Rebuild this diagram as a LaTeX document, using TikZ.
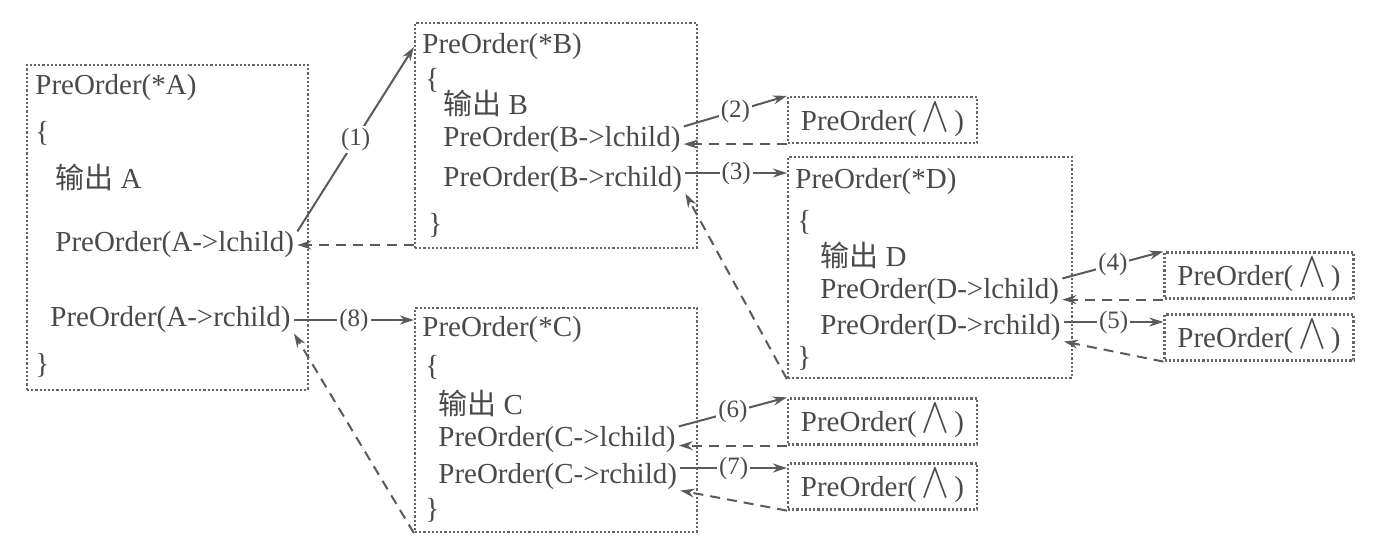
\documentclass[tikz,border=0pt]{standalone}
\usepackage{fontspec}
\setmainfont{Liberation Serif}
\newfontfamily\cjk{Noto Sans CJK SC}
\usetikzlibrary{arrows.meta,calc,fit}
\definecolor{txt}{HTML}{4A4A4A}
\definecolor{ln}{HTML}{5A5A5A}
\definecolor{bd}{HTML}{666666}
\newcommand{\nul}{PreOrder(\,\raisebox{-0.5pt}{\scalebox{1.45}[1.75]{$\wedge$}}\,)}
\begin{document}
\begin{tikzpicture}[x=0.5pt,y=-0.5pt,
  every node/.style={text=txt, font=\fontsize{14.5}{17}\selectfont},
  ctext/.style={anchor=west, inner xsep=1.5pt, inner ysep=0pt},
  cbox/.style={draw=bd, line width=1.1pt, densely dotted, inner sep=0pt},
  sbox/.style={cbox, minimum width=94.5pt, minimum height=23pt},
  callarr/.style={draw=ln, line width=1pt, -{Stealth[length=7pt,width=4.5pt]}},
  retarr/.style={callarr, dash pattern=on 5pt off 3.5pt},
  numlbl/.style={fill=white, inner sep=1pt, font=\fontsize{12.5}{14}\selectfont}
]
\fill[white] (0,0) rectangle (1373,550);
\useasboundingbox (0,0) rectangle (1373,550);

% boxes
\node[cbox, fit={(27,65)(308,390)}] (A) {};
\node[cbox, fit={(415,23)(697,248)}] (B) {};
\node[cbox, fit={(415,308)(697,532)}] (C) {};
\node[cbox, fit={(788,157)(1072,378)}] (D) {};

% A
\node[ctext] (At) at (32,88) {PreOrder(*A)};
\node[ctext] (Ao1) at (32,133) {\{};
\node[ctext] (Ao) at (52,177) {{\cjk 输出} A};
\node[ctext] (Al) at (52,245) {PreOrder(A->lchild)};
\node[ctext] (Ar) at (47,320) {PreOrder(A->rchild)};
\node[ctext] (Ac) at (32,365) {\}};
% B
\node[ctext] (Bt) at (419,47) {PreOrder(*B)};
\node[ctext] (Bo1) at (422,80) {\{};
\node[ctext] (Bo) at (440,103) {{\cjk 输出} B};
\node[ctext] (Bl) at (440,140) {PreOrder(B->lchild)};
\node[ctext] (Br) at (440,180) {PreOrder(B->rchild)};
\node[ctext] (Bc) at (425,225) {\}};
% C
\node[ctext] (Ct) at (419,330) {PreOrder(*C)};
\node[ctext] (Co1) at (422,367) {\{};
\node[ctext] (Co) at (435,403) {{\cjk 输出} C};
\node[ctext] (Cl) at (435,440) {PreOrder(C->lchild)};
\node[ctext] (Cr) at (435,477) {PreOrder(C->rchild)};
\node[ctext] (Cc) at (422,510) {\}};
% D
\node[ctext] (Dt) at (792,182) {PreOrder(*D)};
\node[ctext] (Do1) at (794,222) {\{};
\node[ctext] (Do) at (817,255) {{\cjk 输出} D};
\node[ctext] (Dl) at (817,292) {PreOrder(D->lchild)};
\node[ctext] (Dr) at (817,328) {PreOrder(D->rchild)};
\node[ctext] (Dc) at (794,358) {\}};

% null calls
\node[sbox] (bl) at (882.5,120) {\nul};
\node[sbox] (dl) at (1259,275.5) {\nul};
\node[sbox] (dr) at (1259,337.5) {\nul};
\node[sbox] (cl) at (882.5,421.5) {\nul};
\node[sbox] (cr) at (882.5,486.5) {\nul};

% connectors
\draw[callarr] (Al.north east) -- node[numlbl]{(1)} (Bt.west -| B.west);
\draw[retarr] (Al.east -| B.west) -- (Al.east);
\draw[callarr] (Ar.east) -- node[numlbl]{(8)} (Ar.east -| C.west);
\draw[retarr] (C.south west) -- (Ar.south east);

\draw[callarr] (Bl.north east) -- node[numlbl]{(2)} (bl.north west);
\draw[retarr] (bl.south west) -- (bl.south west -| Bl.east);
\coordinate (b3) at ($(Br.east)+(0,-7)$);
\draw[callarr] (b3) -- node[numlbl]{(3)} (b3 -| D.west);
\draw[retarr] (D.south west) -- (Br.south east);

\draw[callarr] (Dl.north east) -- node[numlbl]{(4)} (dl.north west);
\draw[retarr] (dl.south west) -- (dl.south west -| Dl.east);
\coordinate (d5) at ($(Dr.east)+(0,-6)$);
\draw[callarr] (d5) -- node[numlbl]{(5)} (d5 -| dr.west);
\draw[retarr] (dr.south west) -- (Dr.south east);

\draw[callarr] (Cl.north east) -- node[numlbl]{(6)} (cl.north west);
\draw[retarr] (cl.south west) -- (cl.south west -| Cl.east);
\coordinate (c7) at ($(Cr.east)+(0,-9)$);
\draw[callarr] (c7) -- node[numlbl]{(7)} (c7 -| cr.west);
\draw[retarr] (cr.south west) -- (Cr.south east);
\end{tikzpicture}
\end{document}
